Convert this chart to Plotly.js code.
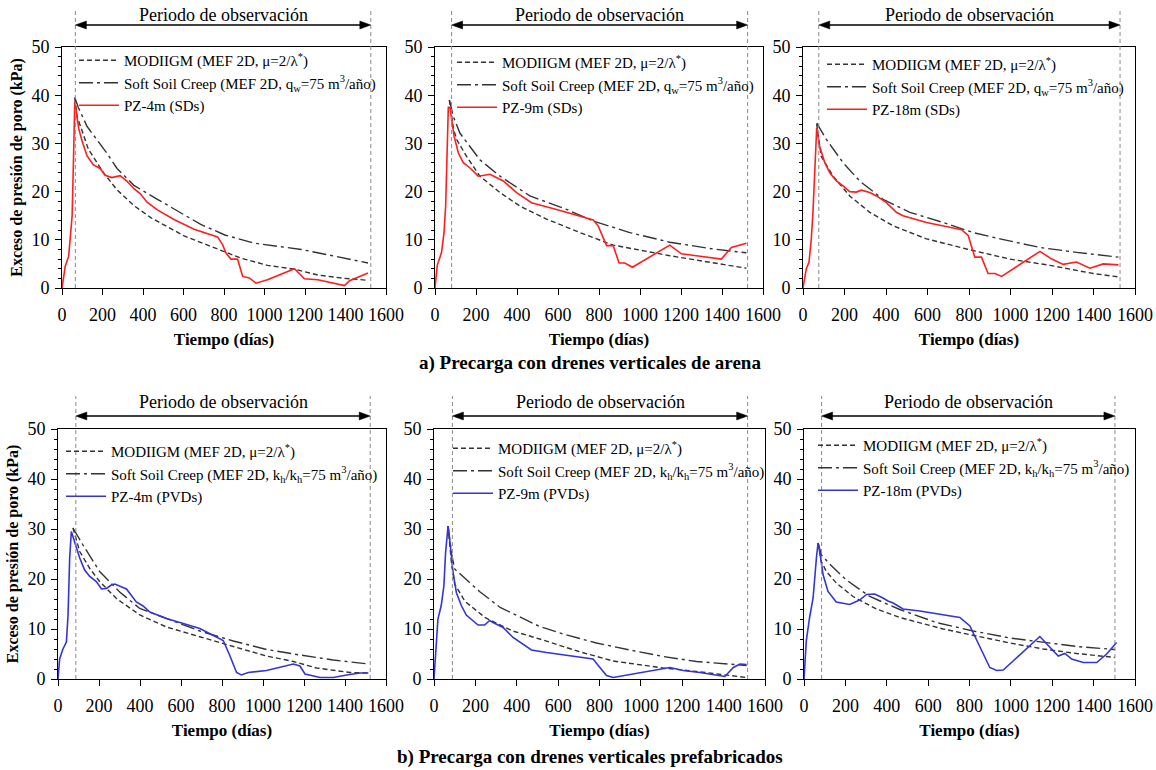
<!DOCTYPE html>
<html><head><meta charset="utf-8">
<script src="https://cdn.plot.ly/plotly-3.0.1.min.js"></script>
<style>html,body{margin:0;padding:0;background:#fff}#chart{width:1156px;height:770px}</style>
</head><body><div id="chart"></div>
<script>
// ---------- DATA ----------
// a) Sand drains (SDs)
const a1ObsDays = [0, 8, 16, 33, 41, 50, 57, 63, 73, 83, 99, 124, 154, 188, 213, 246, 287, 320, 355, 386, 420, 471, 553, 652, 768, 793, 809, 834, 867, 892, 925, 958, 1015, 1148, 1197, 1263, 1395, 1420, 1511];
const a1ObsKpa  = [0, 2, 4.5, 6.6, 10, 15, 27, 38.7, 35.7, 33, 30.5, 27.4, 25.6, 24.8, 23.4, 22.9, 23.3, 22.2, 20.6, 19.6, 17.8, 16.2, 14.2, 12.2, 10.6, 9.0, 7.3, 6.0, 6.0, 2.4, 2.1, 1.0, 1.7, 4.0, 1.9, 1.7, 0.5, 1.5, 3.1];
const a1ModDays = [63, 75, 97, 130, 205, 271, 355, 438, 603, 768, 883, 1015, 1148, 1263, 1395, 1511];
const a1ModKpa  = [39.5, 35.5, 32.9, 28.8, 23.9, 20.4, 17.1, 14.6, 10.8, 8.1, 6.2, 4.7, 3.9, 2.7, 2.0, 1.6];
const a1SscDays = [63, 80, 124, 221, 272, 355, 471, 520, 685, 804, 949, 1181, 1346, 1511];
const a1SscKpa  = [39.5, 37.5, 33.5, 28.0, 24.8, 21.3, 18.4, 17.2, 13.2, 11.0, 9.3, 8.0, 6.6, 5.2];

const a2ObsDays = [0, 11, 32, 44, 52, 60, 65, 73, 81, 93, 114, 138, 171, 211, 268, 333, 398, 471, 593, 772, 796, 837, 869, 898, 926, 963, 1145, 1202, 1275, 1397, 1446, 1519];
const a2ObsKpa  = [0, 4.7, 7.4, 11.5, 17, 30, 37.5, 37.5, 34.9, 31.5, 28, 26, 24.9, 23.2, 23.6, 22.2, 19.8, 17.7, 16.3, 14.1, 12.9, 8.8, 8.8, 5.2, 5.2, 4.3, 8.9, 7.1, 6.7, 6.0, 8.4, 9.3];
const a2ModDays = [70, 90, 106, 154, 219, 317, 414, 544, 707, 869, 1145, 1356, 1519];
const a2ModKpa  = [39, 33, 30.8, 27.3, 23.2, 19.8, 17, 14.3, 11.5, 8.9, 6.7, 5.2, 4.1];
const a2SscDays = [70, 90, 122, 219, 317, 463, 642, 772, 950, 1145, 1356, 1519];
const a2SscKpa  = [39, 35.5, 32.1, 26.6, 23.2, 19.1, 16.3, 13.9, 11.5, 9.5, 8.1, 7.3];

const a3ObsDays = [0, 16, 29, 40, 48, 57, 66, 80, 105, 129, 161, 193, 225, 257, 281, 322, 354, 402, 450, 482, 595, 707, 764, 796, 828, 860, 892, 925, 957, 1142, 1199, 1254, 1318, 1383, 1447, 1520];
const a3ObsKpa  = [0, 4, 5.4, 10.2, 15.7, 25, 33.2, 29.4, 26, 23.9, 22.2, 21.2, 20, 19.9, 20.3, 19.8, 19.1, 17.7, 15.7, 15, 13.6, 12.6, 12.1, 10.9, 6.4, 6.4, 3.0, 3.0, 2.4, 7.6, 6.0, 4.9, 5.4, 4.1, 5.0, 4.8];
const a3ModDays = [66, 88, 145, 225, 322, 434, 595, 788, 997, 1190, 1399, 1520];
const a3ModKpa  = [34, 27.3, 23.2, 19.1, 15.7, 12.9, 10.2, 8.1, 6.0, 4.7, 3.0, 2.3];
const a3SscDays = [66, 113, 193, 273, 386, 515, 675, 820, 949, 1142, 1318, 1520];
const a3SscKpa  = [34.2, 30.8, 26, 22.2, 18.4, 15.7, 13.6, 11.5, 10.2, 8.4, 7.4, 6.4];

// b) Prefabricated vertical drains (PVDs)
const b1ObsDays = [0, 8, 24, 41, 49, 57, 65, 81, 106, 130, 155, 187, 212, 236, 260, 277, 334, 382, 415, 448, 529, 692, 773, 806, 838, 871, 895, 928, 1017, 1148, 1180, 1205, 1278, 1343, 1408, 1473, 1514];
const b1ObsKpa  = [0, 4, 6, 7.4, 12.8, 24.2, 29.5, 27.5, 24.2, 21.8, 20.5, 19.5, 18, 18.1, 18.8, 19, 18, 15.4, 14.6, 13.4, 12.1, 10.1, 8.4, 7.7, 4.7, 1.3, 0.8, 1.3, 1.7, 3.0, 2.6, 1.0, 0.3, 0.3, 0.8, 1.2, 1.2];
const b1ModDays = [73, 106, 155, 203, 285, 399, 529, 692, 855, 1017, 1148, 1261, 1424, 1514];
const b1ModKpa  = [30.2, 25.5, 22.1, 19.5, 16.1, 12.8, 10.4, 8.4, 6.5, 4.6, 3.5, 2.2, 1.3, 1.2];
const b1SscDays = [73, 122, 203, 301, 399, 529, 692, 855, 1017, 1180, 1343, 1514];
const b1SscKpa  = [30.2, 26.8, 21.5, 17.4, 14.1, 12.1, 9.6, 7.6, 5.9, 4.8, 3.8, 3.0];

const b2ObsDays = [0, 8, 19, 35, 48, 56, 68, 79, 92, 108, 132, 156, 181, 213, 245, 269, 285, 334, 382, 431, 471, 544, 769, 802, 834, 866, 995, 1140, 1205, 1285, 1406, 1447, 1479, 1511];
const b2ObsKpa  = [0, 5.3, 12, 14.7, 18.7, 25.3, 30.6, 26.7, 21.3, 17.3, 14.7, 12.8, 12, 10.8, 10.8, 11.7, 11.3, 10.3, 8.3, 7, 5.8, 5.3, 4, 2.3, 0.7, 0.3, 1.3, 2.3, 1.7, 1.3, 0.5, 2.3, 3, 2.9];
const b2ModDays = [68, 85, 100, 150, 250, 380, 511, 700, 866, 1108, 1269, 1511];
const b2ModKpa  = [30.6, 23, 19, 15.5, 12.2, 9.6, 8, 5.5, 3.6, 2.2, 1.5, 0.3];
const b2SscDays = [68, 85, 100, 220, 320, 511, 624, 785, 947, 1108, 1269, 1511];
const b2SscKpa  = [30.6, 25, 22, 17.5, 14.3, 10.5, 9, 7.2, 5.8, 4.5, 3.5, 2.7];

const b3ObsDays = [0, 11, 27, 44, 60, 68, 76, 92, 116, 156, 221, 269, 302, 342, 382, 406, 431, 479, 560, 753, 802, 850, 898, 931, 963, 1140, 1189, 1229, 1261, 1294, 1350, 1415, 1463, 1511];
const b3ObsKpa  = [0, 7.6, 12.3, 16.2, 24.2, 27.2, 25.5, 20.9, 17.5, 15.4, 14.9, 15.8, 16.9, 17, 16.2, 15.6, 15.2, 14, 13.6, 12.3, 10.6, 6.3, 2.3, 1.7, 1.8, 8.5, 6.3, 4.6, 5.1, 4, 3.3, 3.3, 5, 7.3];
const b3ModDays = [68, 84, 108, 156, 237, 350, 463, 673, 834, 995, 1156, 1318, 1503];
const b3ModKpa  = [27.2, 23.5, 21.5, 19.2, 16.5, 14, 12.3, 10, 8.6, 7.2, 6, 5.1, 4.3];
const b3SscDays = [68, 84, 124, 205, 318, 463, 640, 818, 995, 1173, 1318, 1503];
const b3SscKpa  = [27.2, 24.8, 23, 19.8, 16.5, 13.9, 11.3, 9.6, 8.2, 7.2, 6.5, 5.9];

// observation period (days) per panel
const obsStart = [66, 81, 76, 87, 89, 85];
const obsEnd   = [1525, 1525, 1528, 1523, 1516, 1503];

// labels
const obsNames = ['PZ-4m (SDs)', 'PZ-9m (SDs)', 'PZ-18m (SDs)', 'PZ-4m (PVDs)', 'PZ-9m (PVDs)', 'PZ-18m (PVDs)'];
const modName = 'MODIIGM (MEF 2D, μ=2/λ<sup>*</sup>)';
const sscNameA = 'Soft Soil Creep (MEF 2D, q<sub>w</sub>=75 m<sup>3</sup>/año)';
const sscNameB = 'Soft Soil Creep (MEF 2D, k<sub>h</sub>/k<sub>h</sub>=75 m<sup>3</sup>/año)';
const periodLabel = 'Periodo de observación';
const xTitle = 'Tiempo (días)';
const yTitle = 'Exceso de presión de poro (kPa)';
const captionA = 'a) Precarga con drenes verticales de arena';
const captionB = 'b) Precarga con drenes verticales prefabricados';

// ---------- LAYOUT ----------
const W = 1156, H = 770;
const FONT = 'Liberation Serif, Times New Roman, serif';
const px = v => v / W;
const py = v => 1 - v / H;

const series = [
  [a1ObsDays, a1ObsKpa, a1ModDays, a1ModKpa, a1SscDays, a1SscKpa],
  [a2ObsDays, a2ObsKpa, a2ModDays, a2ModKpa, a2SscDays, a2SscKpa],
  [a3ObsDays, a3ObsKpa, a3ModDays, a3ModKpa, a3SscDays, a3SscKpa],
  [b1ObsDays, b1ObsKpa, b1ModDays, b1ModKpa, b1SscDays, b1SscKpa],
  [b2ObsDays, b2ObsKpa, b2ModDays, b2ModKpa, b2SscDays, b2SscKpa],
  [b3ObsDays, b3ObsKpa, b3ModDays, b3ModKpa, b3SscDays, b3SscKpa]
];
// pixel boxes [x0, x1, yTop, yBottom]
const boxes = [
  [62, 386, 47, 288], [435, 763, 47, 288], [803, 1135, 47, 288],
  [58, 386, 429, 679], [434, 765, 429, 679], [804, 1135, 429, 679]
];
const legPos = [[74, 44], [452, 46], [822, 48], [61, 435], [448, 432], [813, 429]];
const colors = ['#ff1e1e', '#ff1e1e', '#ff1e1e', '#3434d8', '#3434d8', '#3434d8'];

const traces = [];
const layout = {
  width: W, height: H,
  margin: {l: 0, r: 0, t: 0, b: 0},
  paper_bgcolor: '#fff', plot_bgcolor: '#fff',
  font: {family: FONT, color: '#000', size: 15},
  showlegend: true,
  shapes: [], annotations: []
};

for (let i = 0; i < 6; i++) {
  const sfx = i === 0 ? '' : String(i + 1);
  const xa = 'x' + sfx, ya = 'y' + sfx;
  const legId = 'legend' + sfx;
  const [od, ok, md, mk, sd, sk] = series[i];
  const b = boxes[i];
  traces.push({x: md, y: mk, xaxis: xa, yaxis: ya, legend: legId, mode: 'lines', name: modName,
    line: {color: '#333', width: 1.4, dash: '5px,3px'}, hoverinfo: 'x+y'});
  traces.push({x: sd, y: sk, xaxis: xa, yaxis: ya, legend: legId, mode: 'lines', name: i < 3 ? sscNameA : sscNameB,
    line: {color: '#333', width: 1.4, dash: '14px,4px,3px,4px'}, hoverinfo: 'x+y'});
  traces.push({x: od, y: ok, xaxis: xa, yaxis: ya, legend: legId, mode: 'lines', name: obsNames[i],
    line: {color: colors[i], width: 1.6}, hoverinfo: 'x+y'});

  layout['xaxis' + sfx] = {
    domain: [px(b[0]), px(b[1])], anchor: ya, range: [0, 1600], tick0: 0, dtick: 200,
    ticks: 'outside', ticklen: 6, tickcolor: '#000', showline: true, mirror: true,
    linecolor: '#000', linewidth: 1, showgrid: false, zeroline: false,
    tickfont: {family: FONT, size: 18}, ticklabelstandoff: 4,
    title: {text: '<b>' + xTitle + '</b>', font: {family: FONT, size: 17}, standoff: 9}
  };
  layout['yaxis' + sfx] = {
    domain: [py(b[3]), py(b[2])], anchor: xa, range: [0, 50], tick0: 0, dtick: 10,
    ticks: 'outside', ticklen: 6, tickcolor: '#000', showline: true, mirror: true,
    linecolor: '#000', linewidth: 1, showgrid: false, zeroline: false,
    tickfont: {family: FONT, size: 18}, ticklabelstandoff: 2,
    minor: {dtick: 2, ticks: 'outside', ticklen: 3, tickcolor: '#000', showgrid: false},
    title: (i === 0 || i === 3) ? {text: '<b>' + yTitle + '</b>', font: {family: FONT, size: 16}, standoff: 4} : {text: ''}
  };
  layout[legId] = {
    x: px(legPos[i][0]), y: py(legPos[i][1]), xanchor: 'left', yanchor: 'top',
    bgcolor: 'rgba(0,0,0,0)', borderwidth: 0, itemwidth: 40, tracegroupgap: 0,
    font: {family: FONT, size: 15, color: '#000'}, traceorder: 'normal',
    itemclick: false, itemdoubleclick: false
  };

  // observation period marks
  const topY = i < 3 ? 8 : 396;
  const arrowY = i < 3 ? 25 : 416;
  const textY = i < 3 ? 15 : 402;
  const dpp = 1600 / (b[1] - b[0]); // days per pixel
  const hl = 11 * dpp, hh = 4 / H;
  [obsStart[i], obsEnd[i]].forEach(xv => {
    layout.shapes.push({type: 'line', xref: xa, yref: 'paper', x0: xv, x1: xv, y0: py(b[3]), y1: py(topY),
      line: {color: '#8a8a8a', width: 1, dash: '4px,3px'}, layer: 'above'});
  });
  const yA = py(arrowY);
  layout.shapes.push({type: 'line', xref: xa, yref: 'paper', x0: obsStart[i] + hl * 0.8, x1: obsEnd[i] - hl * 0.8, y0: yA, y1: yA,
    line: {color: '#000', width: 1.5}});
  layout.shapes.push({type: 'path', xref: xa, yref: 'paper', fillcolor: '#000', line: {color: '#000', width: 0.5},
    path: `M ${obsEnd[i]},${yA} L ${obsEnd[i] - hl},${yA + hh} L ${obsEnd[i] - hl},${yA - hh} Z`});
  layout.shapes.push({type: 'path', xref: xa, yref: 'paper', fillcolor: '#000', line: {color: '#000', width: 0.5},
    path: `M ${obsStart[i]},${yA} L ${obsStart[i] + hl},${yA + hh} L ${obsStart[i] + hl},${yA - hh} Z`});
  layout.annotations.push({xref: xa, yref: 'paper', x: (obsStart[i] + obsEnd[i]) / 2, y: py(textY),
    text: periodLabel, showarrow: false, xanchor: 'center', yanchor: 'middle',
    font: {family: FONT, size: 18, color: '#000'}});
}

layout.annotations.push({xref: 'paper', yref: 'paper', x: px(590), y: py(363), text: '<b>' + captionA + '</b>',
  showarrow: false, xanchor: 'center', yanchor: 'middle', font: {family: FONT, size: 19}});
layout.annotations.push({xref: 'paper', yref: 'paper', x: px(590), y: py(757), text: '<b>' + captionB + '</b>',
  showarrow: false, xanchor: 'center', yanchor: 'middle', font: {family: FONT, size: 19}});

Plotly.newPlot('chart', traces, layout, {displayModeBar: false, staticPlot: true});
</script>
</body></html>
